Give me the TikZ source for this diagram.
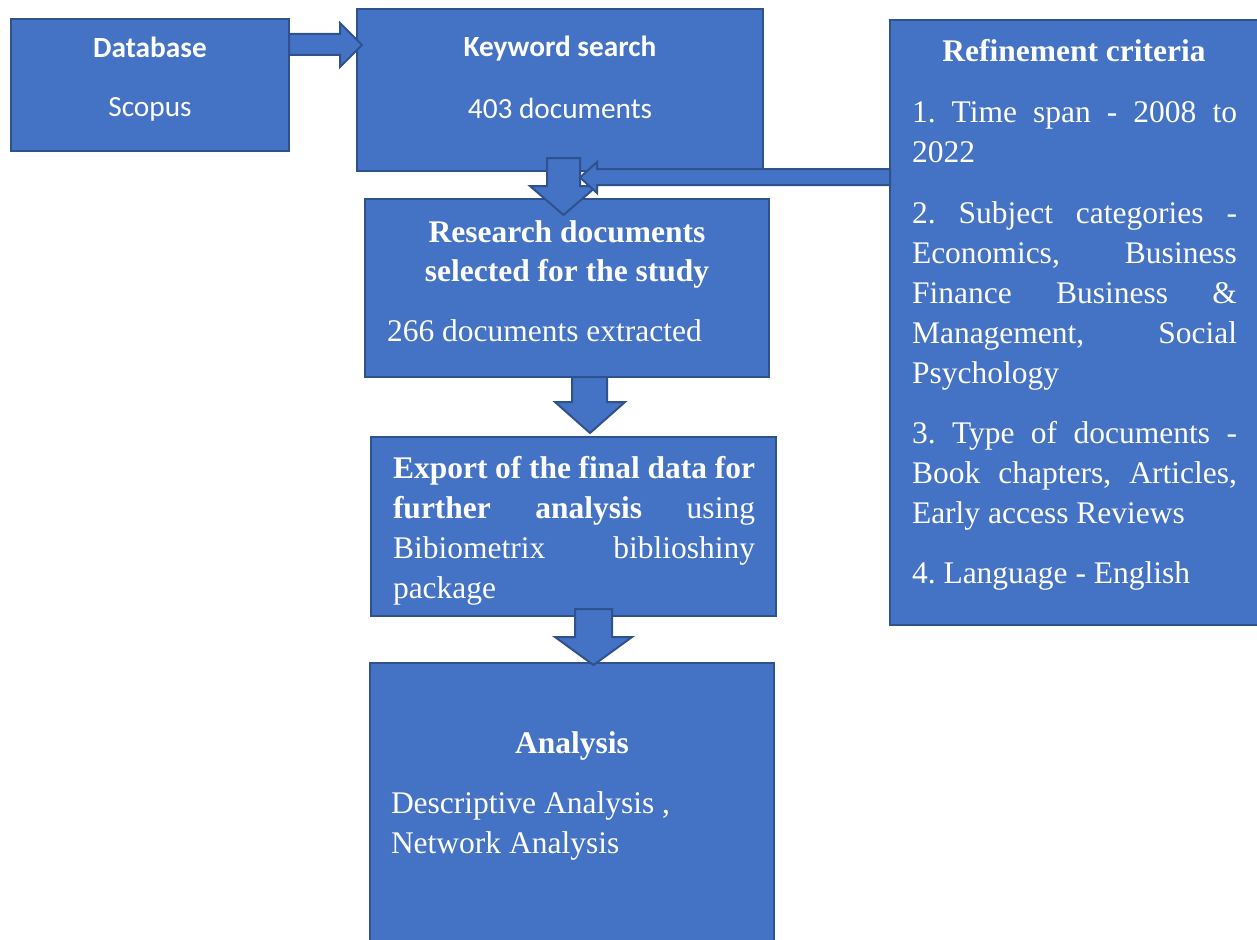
\documentclass[tikz,border=0pt]{standalone}
\usepackage{fontspec}
\setmainfont{Liberation Serif}
\newfontfamily\calibri{Carlito}
\frenchspacing
\definecolor{boxfill}{HTML}{4472C4}
\definecolor{boxline}{HTML}{2F528F}
% a line stretched to the full measure (justified)
\newcommand\jstline[2][325pt]{\makebox[#1][s]{#2}}
\tikzset{
  box/.style={draw=boxline, fill=boxfill, line width=2pt, inner sep=0pt,
    outer sep=0pt, anchor=north west},
  blockarrow/.style={draw=boxline, fill=boxfill, line width=2pt, line join=miter},
  txt/.style={text=white, inner sep=0pt, outer sep=0pt,
    font=\fontsize{31.5}{40}\selectfont},
  ctxt/.style={text=white, inner sep=0pt, outer sep=0pt,
    font=\calibri\fontsize{29.3}{35}\selectfont},
}
\begin{document}
\begin{tikzpicture}[x=1pt, y=-1pt]
\useasboundingbox (0,0) rectangle (1257,939);

% ---- boxes ----
\node[box, minimum width=278pt, minimum height=132pt] (db) at (11,19) {};
\node[box, minimum width=406pt, minimum height=162pt] (kw) at (357,9) {};
\node[box, minimum width=404pt, minimum height=178pt] (rd) at (365,199) {};
\node[box, minimum width=405pt, minimum height=179pt] (ex) at (371,437) {};
\node[box, minimum width=404pt, minimum height=290pt] (an) at (370,663) {};
\node[box, minimum width=380pt, minimum height=605pt] (ref) at (890,20) {};

% ---- block arrows ----
\draw[blockarrow] (289,34) -- (340,34) -- (340,23) -- (362,45) -- (340,67)
  -- (340,55) -- (289,55) -- cycle;
\draw[blockarrow] (547,158) -- (580,158) -- (580,186) -- (597,186)
  -- (563.5,215) -- (530,186) -- (547,186) -- cycle;
\draw[blockarrow] (890,169) -- (597,169) -- (597,162) -- (580,177.5)
  -- (597,193) -- (597,185) -- (890,185) -- cycle;
\draw[blockarrow] (572,377) -- (607,377) -- (607,402) -- (625,402)
  -- (590,433) -- (555,402) -- (572,402) -- cycle;
\draw[blockarrow] (575,609) -- (612,609) -- (612,637) -- (632,637)
  -- (593.5,665) -- (555,637) -- (575,637) -- cycle;

% ---- Database ----
\node[ctxt, anchor=base] (dbt) at (150,58) {\textbf{Database}};
\node[ctxt, anchor=base] (dbs) at (150,117) {Scopus};

% ---- Keyword search ----
\node[ctxt, anchor=base] (kwt) at (560,57) {\textbf{Keyword search}};
\node[ctxt, anchor=base] (kwn) at (560,118) {403 documents};

% ---- Research documents ----
\node[txt, anchor=base] (rdt1) at (567,242) {\textbf{Research documents}};
\node[txt, anchor=base] (rdt2) at (567,281) {\textbf{selected for the study}};
\node[txt, anchor=base west] (rdn) at (387,341) {266 documents extracted};

% ---- Export ----
\node[txt, anchor=base west] (ex1) at (393,478)
  {\jstline[362pt]{\textbf{Export of the final data for}}};
\node[txt, anchor=base west] (ex2) at (393,518)
  {\jstline[362pt]{\textbf{further} \textbf{analysis} using}};
\node[txt, anchor=base west] (ex3) at (393,558)
  {\jstline[362pt]{Bibiometrix biblioshiny}};
\node[txt, anchor=base west] (ex4) at (393,598) {package};

% ---- Analysis ----
\node[txt, anchor=base] (ant) at (572,753) {\textbf{Analysis}};
\node[txt, anchor=base west] (an1) at (391,813) {Descriptive Analysis ,};
\node[txt, anchor=base west] (an2) at (391,853) {Network Analysis};

% ---- Refinement criteria ----
\node[txt, anchor=base] (reft) at (1074,62) {\textbf{Refinement criteria}};
\node[txt, anchor=base west] (r1a) at (912,122) {\jstline{1. Time span - 2008 to}};
\node[txt, anchor=base west] (r1b) at (912,162) {2022};
\node[txt, anchor=base west] (r2a) at (912,223) {\jstline{2. Subject categories -}};
\node[txt, anchor=base west] (r2b) at (912,263) {\jstline{Economics, Business}};
\node[txt, anchor=base west] (r2c) at (912,303) {\jstline{Finance Business \&}};
\node[txt, anchor=base west] (r2d) at (912,343) {\jstline{Management, Social}};
\node[txt, anchor=base west] (r2e) at (912,383) {Psychology};
\node[txt, anchor=base west] (r3a) at (912,443) {\jstline{3. Type of documents -}};
\node[txt, anchor=base west] (r3b) at (912,483) {\jstline{Book chapters, Articles,}};
\node[txt, anchor=base west] (r3c) at (912,523) {Early access Reviews};
\node[txt, anchor=base west] (r4a) at (912,583) {4. Language - English};
\end{tikzpicture}
\end{document}
